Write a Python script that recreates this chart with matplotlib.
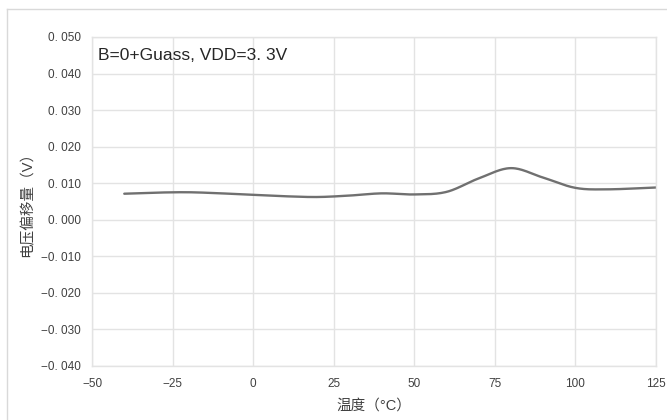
import matplotlib
matplotlib.use("Agg")
import matplotlib.pyplot as plt
from matplotlib.ticker import FuncFormatter
from matplotlib.lines import Line2D
import numpy as np

plt.rcParams['font.family'] = ['Liberation Sans', 'Noto Sans CJK SC', 'DejaVu Sans']

#----data
temps = [-40, -30, -20, -10, 0, 10, 20, 30, 40, 50, 60, 70, 80, 90, 100, 110, 125]
offset_v = [0.0071, 0.0074, 0.0075, 0.0072, 0.0068, 0.0064, 0.0062, 0.0066, 0.0072,
            0.0069, 0.0076, 0.0113, 0.0141, 0.0115, 0.0087, 0.0083, 0.0088]
x_ticks = [-50, -25, 0, 25, 50, 75, 100, 125]
y_ticks = [-0.04, -0.03, -0.02, -0.01, 0.0, 0.01, 0.02, 0.03, 0.04, 0.05]
note = "B=0+Guass, VDD=3. 3V"


#----smoothed line like Excel (Catmull-Rom through the points)
def smooth(xs, ys, n=30):
    xs = np.asarray(xs, float)
    ys = np.asarray(ys, float)
    px = np.concatenate([[2*xs[0]-xs[1]], xs, [2*xs[-1]-xs[-2]]])
    py = np.concatenate([[2*ys[0]-ys[1]], ys, [2*ys[-1]-ys[-2]]])
    out_x, out_y = [], []
    t = np.linspace(0, 1, n)
    for i in range(1, len(px)-2):
        for arr, o in ((px, out_x), (py, out_y)):
            p0, p1, p2, p3 = arr[i-1], arr[i], arr[i+1], arr[i+2]
            o.extend(0.5*((2*p1) + (-p0+p2)*t + (2*p0-5*p1+4*p2-p3)*t**2
                          + (-p0+3*p1-3*p2+p3)*t**3))
    return out_x, out_y


fig = plt.figure(figsize=(6.67, 4.2), dpi=100)
ax = fig.add_axes([0.138, 0.129, 0.8455, 0.783])

sx, sy = smooth(temps, offset_v)
ax.plot(sx, sy, color="#707070", lw=1.7, solid_capstyle="round")

ax.set_xlim(-50, 125)
ax.set_ylim(-0.04, 0.05)
ax.set_xticks(x_ticks)
ax.set_yticks(y_ticks)
ax.yaxis.set_major_formatter(FuncFormatter(
    lambda v, p: ("−" if v < -1e-9 else "") + "0. " + f"{abs(v):.3f}"[2:]))
ax.xaxis.set_major_formatter(FuncFormatter(
    lambda v, p: ("−" if v < 0 else "") + f"{abs(int(v))}"))

ax.grid(True, color="#e3e3e3", lw=1)
ax.set_axisbelow(True)
for s in ax.spines.values():
    s.set_color("#e3e3e3")
    s.set_linewidth(1)
ax.tick_params(length=0, labelsize=8.5, colors="#404040", pad=8)
ax.tick_params(axis="x", pad=9)

ax.set_xlabel("温度（°C）", fontsize=10.5, color="#404040", labelpad=6)
ax.set_ylabel("电压偏移量（V）", fontsize=10.5, color="#404040", labelpad=5)

ax.text(0.01, 0.965, note, transform=ax.transAxes, fontsize=12.5,
        color="#262626", va="top", ha="left")

# outer frame (only top and left visible)
fig.add_artist(Line2D([7/667, 1], [1-9/420, 1-9/420], color="#d9d9d9", lw=1,
                      transform=fig.transFigure))
fig.add_artist(Line2D([7/667, 7/667], [0, 1-9/420], color="#d9d9d9", lw=1,
                      transform=fig.transFigure))

fig.savefig("out.png", dpi=100)
